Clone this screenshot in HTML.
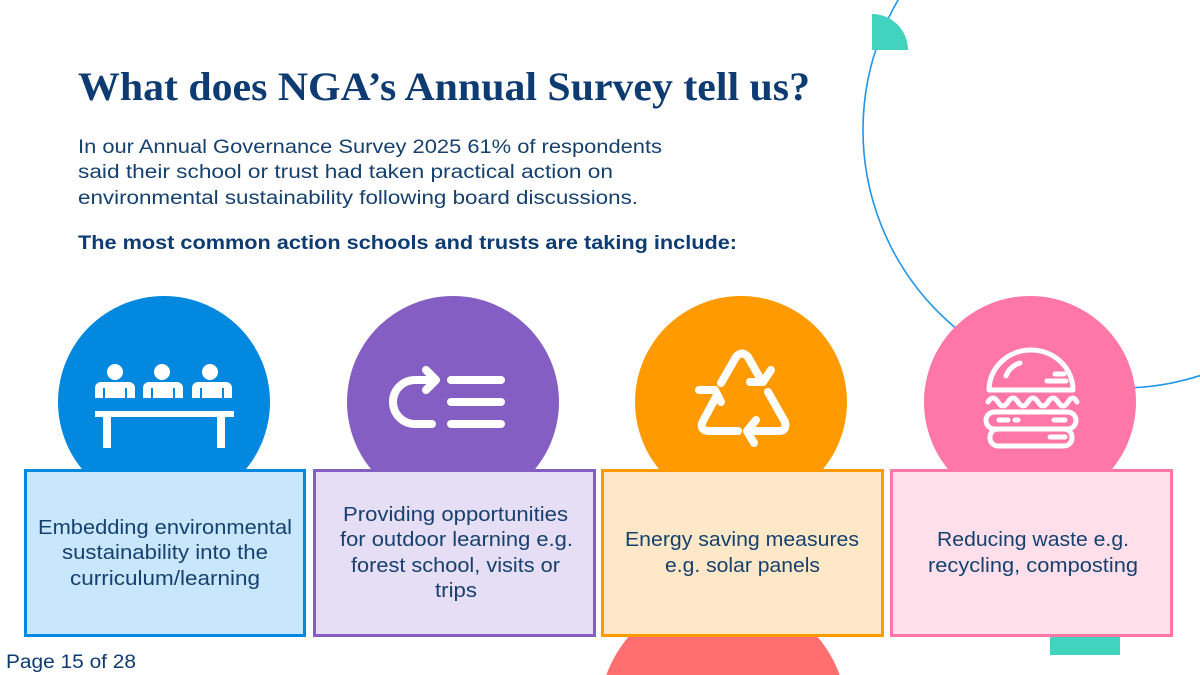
<!DOCTYPE html>
<html><head><meta charset="utf-8"><style>
html,body{margin:0;padding:0;background:#fff;width:1200px;height:675px;overflow:hidden;}
svg{display:block;overflow:hidden;}
</style></head><body>
<svg width="1200" height="675" viewBox="0 0 1200 675" xmlns="http://www.w3.org/2000/svg">
<defs><clipPath id="c"><rect x="0" y="0" width="1200" height="675"/></clipPath></defs>
<g clip-path="url(#c)">
<!-- decor -->
<circle cx="1121" cy="130" r="258" fill="none" stroke="#2196e8" stroke-width="1.6"/>
<path d="M872 50 L872 14 A36 36 0 0 1 908 50 Z" fill="#41d3bd"/>
<rect x="1050" y="630" width="70" height="25" fill="#41d3bd"/>
<circle cx="723" cy="717" r="124" fill="#ff6f6f"/>

<!-- title & text -->
<text x="78" y="100" font-family="Liberation Serif, serif" font-weight="bold" font-size="40" fill="#0d3b72" textLength="732" lengthAdjust="spacingAndGlyphs">What does NGA’s Annual Survey tell us?</text>
<g font-family="Liberation Sans, sans-serif" font-size="19" fill="#16406e">
<text x="78" y="153" textLength="584" lengthAdjust="spacingAndGlyphs">In our Annual Governance Survey 2025 61% of respondents</text>
<text x="78" y="178" textLength="535" lengthAdjust="spacingAndGlyphs">said their school or trust had taken practical action on</text>
<text x="78" y="204" textLength="560" lengthAdjust="spacingAndGlyphs">environmental sustainability following board discussions.</text>
<text x="78" y="249" font-weight="bold" fill="#0d3b72" textLength="659" lengthAdjust="spacingAndGlyphs">The most common action schools and trusts are taking include:</text>
<text x="6" y="668" fill="#0d3b72" textLength="130" lengthAdjust="spacingAndGlyphs">Page 15 of 28</text>
</g>

<!-- circles -->
<circle cx="164" cy="402" r="106" fill="#0288de"/>
<circle cx="453" cy="402" r="106" fill="#845ec2"/>
<circle cx="741" cy="402" r="106" fill="#ff9b00"/>
<circle cx="1030" cy="402" r="106" fill="#ff77a6"/>

<!-- people icon -->
<g fill="#fff">
<circle cx="115" cy="372" r="8"/><circle cx="162" cy="372" r="8"/><circle cx="210" cy="372" r="8"/>
<path d="M95 398 V388 a6 6 0 0 1 6 -6 h28 a6 6 0 0 1 6 6 V398 Z"/>
<path d="M143 398 V388 a6 6 0 0 1 6 -6 h28 a6 6 0 0 1 6 6 V398 Z"/>
<path d="M192 398 V388 a6 6 0 0 1 6 -6 h28 a6 6 0 0 1 6 6 V398 Z"/>
<rect x="95" y="411" width="139" height="6"/>
<rect x="103" y="417" width="8" height="31"/><rect x="217" y="417" width="8" height="31"/>
</g>
<g fill="#0288de"><rect x="103" y="388" width="2" height="10"/><rect x="125" y="388" width="2" height="10"/><rect x="151" y="388" width="2" height="10"/><rect x="173" y="388" width="2" height="10"/><rect x="200" y="388" width="2" height="10"/><rect x="222" y="388" width="2" height="10"/></g>

<!-- purple icon -->
<g stroke="#fff" stroke-width="8" stroke-linecap="round" stroke-linejoin="round" fill="none">
<line x1="451" y1="380" x2="501" y2="380"/><line x1="451" y1="402" x2="501" y2="402"/><line x1="451" y1="424" x2="501" y2="424"/>
<path d="M432 424 H415 A22 22 0 0 1 415 380 H434"/>
<path d="M426 370 L436 380 L426 390"/>
</g>

<!-- recycle -->
<g stroke="#fff" stroke-width="8" stroke-linecap="round" stroke-linejoin="round" fill="none">
<path d="M721 383 L736 357 Q742 350 748 357 L760 378"/>
<path d="M750 382 L763 382 L771 370"/>
<path d="M768 392 L785 422 Q787 431 779 431 L750 431"/>
<path d="M756 420 L747 431 L754 443"/>
<path d="M738 431 L708 431 Q699 430 703 421 L716 397"/>
<path d="M699 390 L715 390 L721 402"/>
</g>

<!-- burger -->
<g stroke="#fff" stroke-width="5" stroke-linecap="round" stroke-linejoin="round" fill="none">
<path d="M989 390 A42 40 0 0 1 1073 390 Z"/>
<path d="M1006 376 Q1010 366 1020 363"/>
<line x1="1047" y1="381" x2="1066" y2="381"/><line x1="1055" y1="374" x2="1064" y2="374"/>
<path d="M988 402 q5 -8 10 0 q5 8 10 0 q5 -8 10 0 q5 8 10 0 q5 -8 10 0 q5 8 10 0 q5 -8 10 0 q5 8 10 0 q5 -8 9 0"/>
<rect x="986" y="412" width="90" height="17" rx="8.5"/>
<rect x="990" y="429" width="82" height="17" rx="8"/>
<line x1="999" y1="420" x2="1008" y2="420"/><line x1="1015" y1="420" x2="1018" y2="420"/><line x1="1054" y1="420" x2="1065" y2="420"/>
<line x1="1050" y1="437" x2="1065" y2="437"/>
</g>

<!-- boxes -->
<rect x="25.5" y="470.5" width="279" height="165" fill="#c8e7fd" stroke="#0288de" stroke-width="3"/>
<rect x="314.5" y="470.5" width="280" height="165" fill="#e6def4" stroke="#845ec2" stroke-width="3"/>
<rect x="602.5" y="470.5" width="280" height="165" fill="#ffe8c8" stroke="#ff9b00" stroke-width="3"/>
<rect x="891.5" y="470.5" width="280" height="165" fill="#ffe0ea" stroke="#ff77a6" stroke-width="3"/>

<g font-family="Liberation Sans, sans-serif" font-size="20.5" fill="#16406e">
<text x="38" y="534" textLength="254" lengthAdjust="spacingAndGlyphs">Embedding environmental</text>
<text x="62" y="559" textLength="206" lengthAdjust="spacingAndGlyphs">sustainability into the</text>
<text x="70" y="585" textLength="190" lengthAdjust="spacingAndGlyphs">curriculum/learning</text>
<text x="343" y="521" textLength="225" lengthAdjust="spacingAndGlyphs">Providing opportunities</text>
<text x="340" y="546" textLength="233" lengthAdjust="spacingAndGlyphs">for outdoor learning e.g.</text>
<text x="351" y="572" textLength="209" lengthAdjust="spacingAndGlyphs">forest school, visits or</text>
<text x="435" y="597" textLength="42" lengthAdjust="spacingAndGlyphs">trips</text>
<text x="625" y="546" textLength="234" lengthAdjust="spacingAndGlyphs">Energy saving measures</text>
<text x="665" y="572" textLength="155" lengthAdjust="spacingAndGlyphs">e.g. solar panels</text>
<text x="937" y="546" textLength="192" lengthAdjust="spacingAndGlyphs">Reducing waste e.g.</text>
<text x="928" y="572" textLength="210" lengthAdjust="spacingAndGlyphs">recycling, composting</text>
</g>
</g>
</svg>
</body></html>
